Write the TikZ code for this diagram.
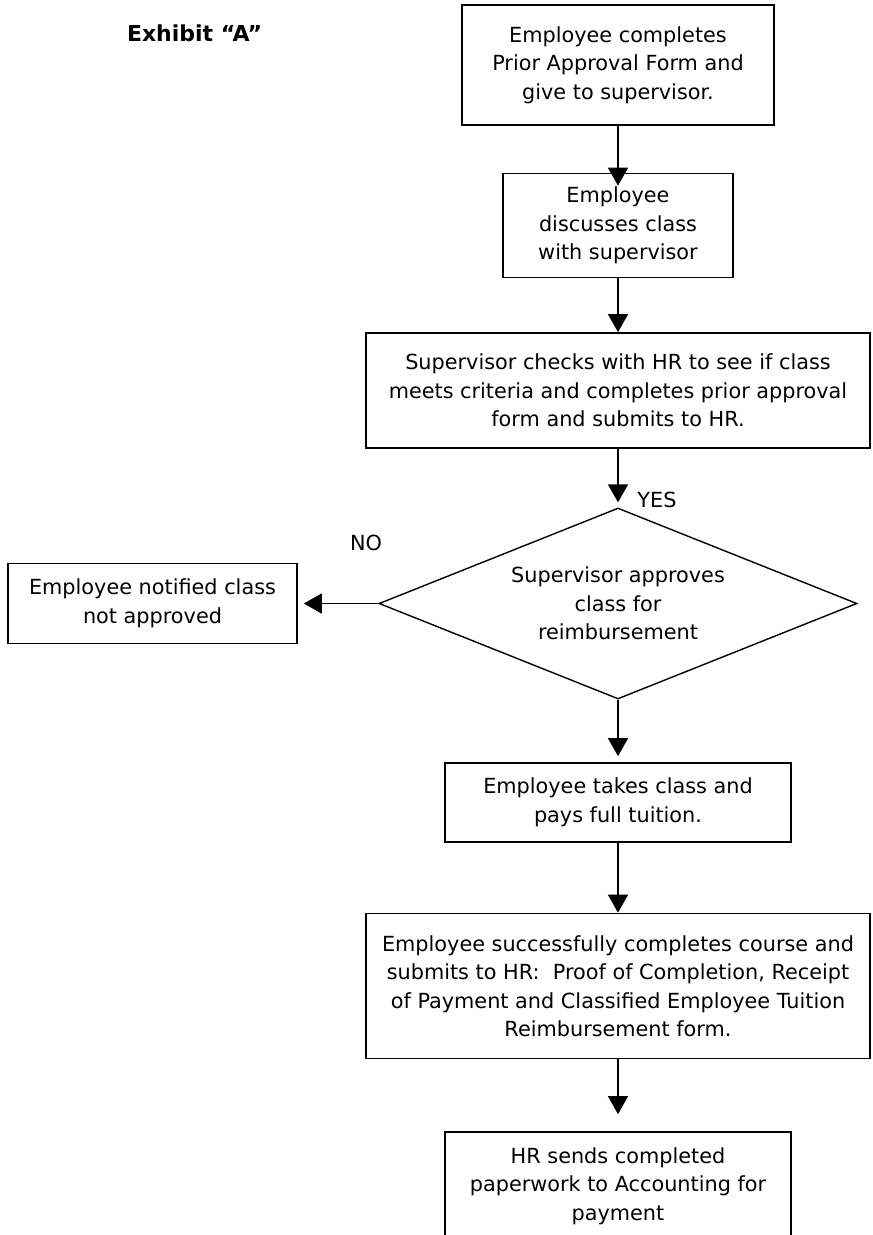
\documentclass[tikz,border=0pt]{standalone}
\usepackage{fontspec}
\setmainfont{DejaVu Sans}
\usetikzlibrary{arrows.meta,shapes.geometric}
\newcommand\myfs{\fontsize{20.8}{28.5}\selectfont}
\begin{document}
\begin{tikzpicture}[x=1pt,y=-1pt,
  box/.style={draw, line width=1.7pt, align=center, inner sep=0pt, font=\myfs},
  dia/.style={draw, line width=1.4pt, shape=diamond, aspect=2.5, align=center, inner sep=0pt, font=\myfs},
  lbl/.style={inner sep=0pt, font=\myfs},
  arr/.style={line width=1.5pt, -{Triangle[width=20pt,length=18pt]}}]
\useasboundingbox (0,0) rectangle (873,1235);
\node[lbl, font=\fontsize{22}{26}\selectfont\bfseries] (ex) at (194.5,33) {Exhibit “A”};
\node[box, minimum width=312pt, minimum height=120pt] (b1) at (618,65)
  {Employee completes\\Prior Approval Form and\\give to supervisor.};
\node[box, minimum width=230pt, minimum height=104pt] (b2) at (618,225.5)
  {Employee\\discusses class\\with supervisor};
\node[box, minimum width=504pt, minimum height=115pt] (b3) at (618,390.5)
  {Supervisor checks with HR to see if class\\meets criteria and completes prior approval\\form and submits to HR.};
\node[dia, minimum width=478pt, minimum height=191pt] (d) at (618,603.5)
  {Supervisor approves\\class for\\reimbursement};
\node[box, minimum width=289pt, minimum height=80pt] (bl) at (152.5,603.5)
  {Employee notified class\\not approved};
\node[box, minimum width=346pt, minimum height=79pt] (b4) at (618,802.5)
  {Employee takes class and\\pays full tuition.};
\node[box, minimum width=504pt, minimum height=145pt] (b5) at (618,986)
  {Employee successfully completes course and\\submits to HR:\ \ Proof of Completion, Receipt\\of Payment and Classified Employee Tuition\\Reimbursement form.};
\node[box, minimum width=346pt, minimum height=108pt] (b6) at (618,1186)
  {HR sends completed\\paperwork to Accounting for\\payment};
\node[lbl] (yes) at (657,500) {YES};
\node[lbl] (no) at (366,543) {NO};
\draw[arr, shorten >=-13pt] (b1.south) -- (b2.north);
\draw[arr] (b2.south) -- (b3.north);
\draw[arr, shorten >=5pt] (b3.south) -- (d.north);
\draw[arr, shorten >=6pt] (d.west) -- (bl.east);
\draw[arr, shorten >=6pt] (d.south) -- (b4.north);
\draw[arr] (b4.south) -- (b5.north);
\draw[arr, shorten >=17pt] (b5.south) -- (b6.north);
\end{tikzpicture}
\end{document}
